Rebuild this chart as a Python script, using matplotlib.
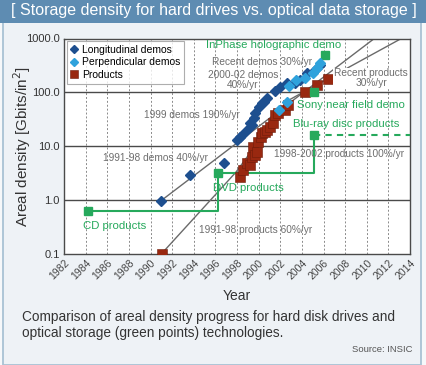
import matplotlib
matplotlib.use("Agg")
import matplotlib.pyplot as plt
from matplotlib.patches import Rectangle

plt.rcParams['font.family'] = ['Liberation Sans', 'DejaVu Sans']

# %% Data
# hard disk demos, longitudinal recording
long_year = [1990.95, 1993.65, 1996.8, 1998.0, 1998.3, 1998.5, 1998.9, 1999.2,
             1999.4, 1999.6, 1999.7, 2000.0, 2000.3, 2000.5, 2000.8, 2001.5,
             2002.0, 2002.6, 2003.4, 2003.8, 2004.5, 2005.2, 2005.7]
long_dens = [0.96, 2.9, 4.8, 13, 15, 16, 20, 27,
             25, 34, 41, 53, 63, 67, 78, 106,
             125, 149, 149, 169, 228, 260, 321]

# hard disk demos, perpendicular recording
perp_year = [2001.9, 2002.6, 2002.8, 2003.5, 2004.3, 2005.0, 2005.4, 2005.7]
perp_dens = [47, 66, 131, 169, 184, 228, 282, 350]

# hard disk products
prod_year = [1991.05, 1998.3, 1998.55, 1998.9, 1999.2, 1999.4, 1999.5, 1999.7,
             1999.85, 1999.95, 2000.2, 2000.3, 2000.6, 2000.8, 2001.05, 2001.3,
             2001.5, 2001.8, 2002.4, 2002.7, 2004.3, 2005.4, 2006.4]
prod_dens = [0.1, 2.7, 3.6, 4.9, 4.5, 6.3, 9.7, 6.9,
             7.8, 12, 14.8, 17.6, 18, 20, 22.7, 27,
             38, 42, 47, 58, 101, 136, 177]

# optical storage (green)
optical_year = [1984.25, 1996.2, 2005.15]
optical_dens = [0.63, 3.2, 16]
optical_names = ['CD products', 'DVD products', 'Blu-ray disc products']
demo_year = [2005.15, 2006.1]
demo_dens = [100, 500]

# trend lines
demo_trend_year = [1990.9, 2010.7]
demo_trend_dens = [0.95, 1000]
prod_trend_year = [1991.0, 1997.9, 2002.8, 2013.2]
prod_trend_dens = [0.1, 3.3, 72, 1000]

years = list(range(1982, 2015, 2))
dens_ticks = [0.1, 1, 10, 100, 1000]

dark_blue = '#1d4f8f'
light_blue = '#2fa2dc'
dark_red = '#992810'
green = '#26a95c'
grey_txt = '#6e6e6e'
line_grey = '#6a6a6a'

# %% Figure and frame
W, H = 427, 365
fig = plt.figure(figsize=(W / 100, H / 100), dpi=100)
fig.patch.set_facecolor('#f6f8fa')
fig.add_artist(Rectangle((3 / W, 0), 418 / W, 1, transform=fig.transFigure,
                         fc='#eef2f6', ec='#a9c2d4', lw=1.3, zorder=0))
fig.add_artist(Rectangle((0, 1 - 23 / H), 1, 23 / H, transform=fig.transFigure,
                         fc='#5e8cb2', ec='none', zorder=1))
fig.text(0.5, 1 - 10.5 / H,
         '[ Storage density for hard drives vs. optical data storage ]',
         color='white', fontsize=11.5, ha='center', va='center')

ax = fig.add_axes([64 / W, 1 - 254 / H, 346 / W, 215.5 / H])
ax.set_facecolor('white')
ax.set_yscale('log')
ax.set_xlim(1982, 2014)
ax.set_ylim(0.1, 1000)

# grid
for yr in years[1:-1]:
    ax.axvline(yr, color='#8a8a8a', lw=0.7, ls=(0, (2, 2)), zorder=1)
for d in dens_ticks[1:-1]:
    ax.axhline(d, color='#4a4a4a', lw=1.0, zorder=1)

# trend lines
ax.plot(demo_trend_year, demo_trend_dens, color=line_grey, lw=1.0, zorder=2)
ax.plot(prod_trend_year, prod_trend_dens, color=line_grey, lw=1.0, zorder=2)

# optical steps
ax.step(optical_year, optical_dens, where='post', color=green, lw=1.5, zorder=3)
ax.plot([optical_year[-1], 2014], [optical_dens[-1]] * 2, color=green, lw=1.5,
        ls=(0, (3, 2.5)), zorder=3)
ax.plot(optical_year, optical_dens, 's', color=green, ms=5.5, zorder=5)
ax.plot(demo_year, demo_dens, 's', color=green, ms=5.5, zorder=5)

# hard disk points
ax.plot(prod_year, prod_dens, 's', color=dark_red, ms=6.8, mec='#6e1c0a', mew=0.4,
        zorder=4, label='Products')
ax.plot(long_year, long_dens, 'D', color=dark_blue, ms=5.2, zorder=5,
        label='Longitudinal demos')
ax.plot(perp_year, perp_dens, 'D', color=light_blue, ms=5.2, zorder=6,
        label='Perpendicular demos')

h, l = ax.get_legend_handles_labels()
leg = ax.legend([h[1], h[2], h[0]], [l[1], l[2], l[0]], loc='upper left',
                fontsize=7.5, frameon=True, fancybox=False, edgecolor='#9a9a9a',
                borderpad=0.35, handlelength=0.8, handletextpad=0.3,
                labelspacing=0.25, borderaxespad=0.25, markerscale=0.85)
leg.get_frame().set_linewidth(0.8)

# annotations
gkw = dict(color=grey_txt, fontsize=7.3, ha='center', va='center', zorder=7)
ax.text(1993.85, 38, '1999 demos 190%/yr', **gkw)
ax.text(1990.5, 6.0, '1991-98 demos 40%/yr', **gkw)
ax.text(2000.3, 365, 'Recent demos 30%/yr', **gkw)
ax.text(1998.55, 169, '2000-02 demos\n40%/yr', linespacing=0.95, **gkw)
ax.text(2010.4, 184, 'Recent products\n30%/yr', linespacing=0.95,
        bbox=dict(fc='white', ec='none', pad=0.5), **gkw)
ax.text(2007.45, 7.2, '1998-2002 products 100%/yr', **gkw)
ax.text(1999.75, 0.28, '1991-98 products 60%/yr', **gkw)

ckw = dict(color=green, fontsize=8.2, va='center', zorder=7)
ax.text(2001.4, 755, 'InPhase holographic demo', ha='center', **ckw)
ax.text(2008.55, 58, 'Sony near field demo', ha='center', **ckw)
ax.text(2008.1, 26, optical_names[2], ha='center', **ckw)
ax.text(1995.8, 1.67, optical_names[1], ha='left', **ckw)
ax.text(1983.75, 0.33, optical_names[0], ha='left', **ckw)

# axes styling
ax.set_xticks(years)
ax.set_xticklabels([str(y) for y in years], rotation=45, ha='right',
                   va='top', rotation_mode='anchor', fontsize=7.5, color='#444444')
ax.set_yticks(dens_ticks)
ax.set_yticklabels(['%.1f' % d for d in dens_ticks], fontsize=8, color='#333333')
ax.minorticks_off()
ax.tick_params(length=0, pad=3)
for s in ax.spines.values():
    s.set_color('#4a4a4a')
    s.set_linewidth(1.0)

ax.set_xlabel('Year', fontsize=10, color='#333333')
ax.xaxis.set_label_coords(0.5, -(289 - 254) / 215.5)
ax.set_ylabel('Areal density [Gbits/in$^2$]', fontsize=11, color='#333333')
ax.yaxis.set_label_coords(-(64 - 33) / 346, 0.5)

fig.text(22 / W, 1 - 325 / H,
         'Comparison of areal density progress for hard disk drives and\n'
         'optical storage (green points) technologies.',
         fontsize=9.8, color='#333333', ha='left', va='center', linespacing=1.15)
fig.text(413 / W, 1 - 349 / H, 'Source: INSIC', fontsize=6.8, color='#555555',
         ha='right', va='center')

fig.savefig('out.png', dpi=100, facecolor=fig.get_facecolor())
